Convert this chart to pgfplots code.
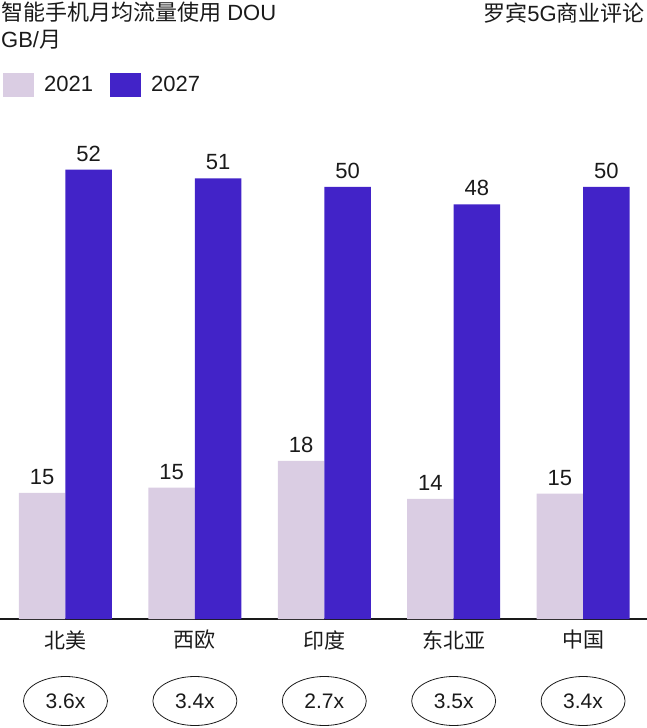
\documentclass[border=0pt]{standalone}
\usepackage{fontspec}
\setmainfont{Liberation Sans}
\newfontfamily\cjk{Noto Sans CJK SC}
\usepackage{pgfplots}
\pgfplotsset{compat=1.18}
\usetikzlibrary{shapes.geometric}
\definecolor{lite}{RGB}{218,205,227}
\definecolor{deep}{RGB}{66,35,200}
\definecolor{ink}{RGB}{26,26,26}
\tikzset{oval/.style={draw=ink, ellipse, line width=0.8pt, minimum width=84pt,
    minimum height=49pt, inner sep=0pt, text=ink, font=\fontsize{21}{21}\selectfont}}

\begin{document}
\begin{tikzpicture}
% page = 647 x 728, axis origin at pixel (0,619)
\path[use as bounding box] (0pt,-109pt) rectangle (647pt,619pt);

\begin{axis}[
  at={(0pt,0pt)}, anchor=south west,
  scale only axis, width=647pt, height=509pt,
  xmin=-0.506, xmax=4.494, ymin=0, ymax=58.91,
  clip=false,
  ybar=0pt, bar width=46.5pt,
  axis x line*=bottom, axis y line=none,
  x axis line style={ink, line width=2pt},
  xtick={0,...,4}, xticklabels={北美,西欧,印度,东北亚,中国},
  major tick length=0pt,
  xticklabel style={font=\cjk\fontsize{21}{21}\selectfont, anchor=center, yshift=-21pt, text=ink},
  nodes near coords, point meta=explicit symbolic,
  every node near coord/.append style={font=\fontsize{22}{22}\selectfont, anchor=south, inner sep=0pt, yshift=8pt, text=ink},
  legend columns=-1,
  legend cell align=left,
  legend style={draw=none, fill=none, inner sep=0pt, at={(0,1)}, anchor=west,
    xshift=3pt, yshift=25pt, font=\fontsize{22}{22}\selectfont, text=ink,
    /tikz/every odd column/.append style={column sep=8pt},
    /tikz/every even column/.append style={column sep=15pt}},
]
\addplot[fill=lite, draw=none,
  legend image code/.code={\fill[lite] (0pt,-12pt) rectangle (31pt,12pt);}]
  coordinates {(0,14.6) [15] (1,15.2) [15] (2,18.3) [18] (3,13.9) [14] (4,14.5) [15]};
\addplot[fill=deep, draw=none,
  legend image code/.code={\fill[deep] (0pt,-12pt) rectangle (31pt,12pt);}]
  coordinates {(0,52) [52] (1,51) [51] (2,50) [50] (3,48) [48] (4,50) [50]};
\legend{2021,2027}

\node[oval, yshift=-82pt] at (axis cs:0,0) {3.6x};
\node[oval, yshift=-82pt] at (axis cs:1,0) {3.4x};
\node[oval, yshift=-82pt] at (axis cs:2,0) {2.7x};
\node[oval, yshift=-82pt] at (axis cs:3,0) {3.5x};
\node[oval, yshift=-82pt] at (axis cs:4,0) {3.4x};
\end{axis}

\node[anchor=base west, inner sep=0pt, text=ink, font=\fontsize{22}{22}\selectfont]
  at (1pt,598pt) {{\cjk 智能手机月均流量使用} DOU};
\node[anchor=base west, inner sep=0pt, text=ink, font=\fontsize{22}{22}\selectfont]
  at (1pt,571pt) {GB/{\cjk 月}};
\node[anchor=base east, inner sep=0pt, text=ink, font=\fontsize{22}{22}\selectfont]
  at (645pt,597pt) {{\cjk 罗宾}5G{\cjk 商业评论}};
\end{tikzpicture}
\end{document}
